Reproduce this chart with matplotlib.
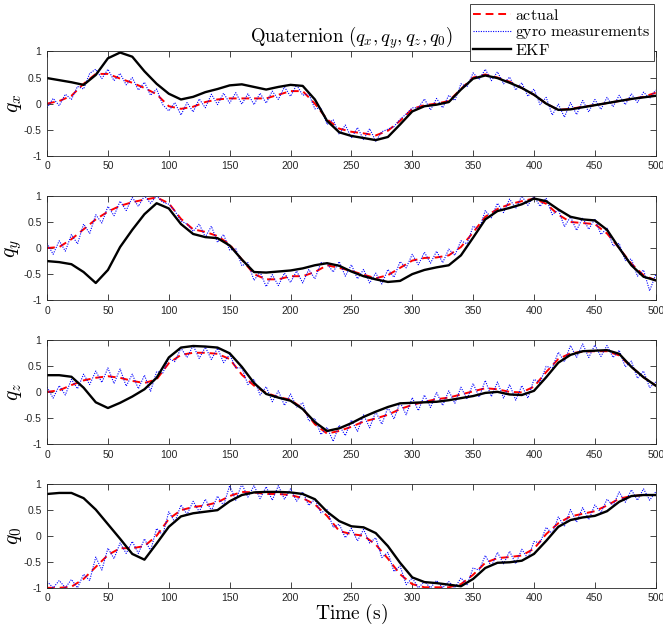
import matplotlib
matplotlib.use("Agg")
import matplotlib.pyplot as plt
import numpy as np

plt.rcParams['mathtext.fontset'] = 'cm'
plt.rcParams['axes.unicode_minus'] = False
plt.rcParams['font.family'] = ['Liberation Sans', 'DejaVu Sans']

# time grids (s)
t_10 = np.arange(0, 501, 10)
t_5 = np.arange(0, 501, 5)

names = ["$q_x$", "$q_y$", "$q_z$", "$q_0$"]

actual_qx = [0.0, 0.05, 0.15, 0.38, 0.57, 0.57, 0.48, 0.40, 0.30, 0.18, -0.05, -0.10, -0.06, 0.03, 0.08,
             0.10, 0.10, 0.10, 0.10, 0.17, 0.24, 0.24, 0.0, -0.30, -0.48, -0.54, -0.57, -0.61, -0.52, -0.33,
             -0.10, -0.03, 0.0, 0.05, 0.28, 0.50, 0.56, 0.50, 0.42, 0.30, 0.17, 0.0, -0.12, -0.10, -0.06,
             -0.03, 0.01, 0.05, 0.09, 0.13, 0.21]
ekf_qx = [0.49, 0.45, 0.41, 0.36, 0.55, 0.87, 0.98, 0.90, 0.62, 0.38, 0.19, 0.08, 0.13, 0.22, 0.28,
          0.35, 0.37, 0.32, 0.27, 0.32, 0.36, 0.34, 0.08, -0.33, -0.55, -0.62, -0.66, -0.70, -0.64, -0.40,
          -0.15, -0.05, -0.02, 0.03, 0.27, 0.48, 0.54, 0.49, 0.40, 0.30, 0.17, 0.0, -0.12, -0.11, -0.07,
          -0.03, 0.01, 0.05, 0.09, 0.12, 0.15]
gyro_qx = [-0.08, 0.10, -0.04, 0.18, 0.08, 0.33, 0.28, 0.58, 0.66, 0.48, 0.66, 0.44, 0.58, 0.36, 0.50,
           0.26, 0.41, 0.16, 0.28, -0.02, -0.14, 0.02, -0.22, 0.02, -0.16, 0.09, -0.08, 0.18, -0.02, 0.20,
           0.01, 0.21, -0.01, 0.19, -0.02, 0.20, 0.01, 0.24, 0.08, 0.32, 0.14, 0.36, 0.16, 0.19, -0.10,
           -0.08, -0.40, -0.31, -0.59, -0.41, -0.66, -0.46, -0.69, -0.48, -0.72, -0.54, -0.49, -0.44, -0.30, -0.20,
           -0.08, -0.08, 0.09, -0.12, 0.10, -0.08, 0.16, 0.06, 0.38, 0.32, 0.59, 0.46, 0.66, 0.44, 0.61,
           0.38, 0.51, 0.26, 0.40, 0.14, 0.28, -0.02, 0.12, -0.22, -0.01, -0.26, 0.02, -0.21, 0.06, -0.16,
           0.08, -0.11, 0.12, -0.06, 0.16, -0.02, 0.19, 0.02, 0.22, 0.10, 0.26]

actual_qy = [0.0, 0.02, 0.17, 0.36, 0.55, 0.70, 0.81, 0.88, 0.93, 0.97, 0.86, 0.56, 0.36, 0.31, 0.23,
             0.07, -0.22, -0.50, -0.60, -0.60, -0.54, -0.54, -0.46, -0.33, -0.38, -0.44, -0.51, -0.58, -0.52, -0.38,
             -0.24, -0.19, -0.18, -0.14, 0.02, 0.30, 0.60, 0.75, 0.84, 0.90, 0.95, 0.85, 0.64, 0.50, 0.48,
             0.46, 0.28, 0.0, -0.30, -0.52, -0.62]
ekf_qy = [-0.25, -0.27, -0.31, -0.46, -0.67, -0.42, 0.02, 0.35, 0.65, 0.86, 0.76, 0.46, 0.27, 0.21, 0.19,
          0.05, -0.22, -0.46, -0.47, -0.45, -0.43, -0.39, -0.33, -0.29, -0.34, -0.45, -0.54, -0.60, -0.65, -0.63,
          -0.50, -0.42, -0.37, -0.33, -0.14, 0.20, 0.55, 0.71, 0.77, 0.84, 0.95, 0.90, 0.74, 0.60, 0.55,
          0.53, 0.35, 0.0, -0.33, -0.55, -0.62]
gyro_qy = [0.09, -0.12, 0.14, -0.06, 0.26, 0.08, 0.46, 0.28, 0.64, 0.48, 0.80, 0.62, 0.90, 0.72, 0.97,
           0.80, 1.0, 0.86, 1.0, 0.88, 0.84, 0.71, 0.52, 0.46, 0.32, 0.46, 0.21, 0.42, 0.11, 0.26,
           -0.04, -0.01, -0.34, -0.28, -0.62, -0.46, -0.74, -0.51, -0.72, -0.48, -0.66, -0.44, -0.67, -0.41, -0.59,
           -0.28, -0.30, -0.46, -0.26, -0.54, -0.32, -0.59, -0.41, -0.67, -0.48, -0.69, -0.41, -0.56, -0.26, -0.38,
           -0.12, -0.32, -0.08, -0.29, -0.06, -0.28, -0.02, -0.14, 0.14, 0.08, 0.42, 0.36, 0.72, 0.58, 0.86,
           0.68, 0.94, 0.76, 1.0, 0.82, 1.0, 0.80, 0.96, 0.64, 0.74, 0.41, 0.60, 0.34, 0.58, 0.36,
           0.56, 0.26, 0.38, 0.04, 0.09, -0.24, -0.21, -0.54, -0.42, -0.82, -0.51]

actual_qz = [0.0, 0.03, 0.13, 0.22, 0.27, 0.30, 0.27, 0.21, 0.17, 0.24, 0.55, 0.71, 0.75, 0.75, 0.73,
             0.63, 0.33, 0.12, -0.02, -0.10, -0.15, -0.32, -0.62, -0.80, -0.75, -0.67, -0.57, -0.51, -0.44, -0.33,
             -0.25, -0.19, -0.14, -0.11, -0.05, 0.01, 0.07, 0.05, 0.0, -0.01, 0.10, 0.38, 0.63, 0.74, 0.77,
             0.78, 0.78, 0.70, 0.48, 0.28, 0.12]
ekf_qz = [0.32, 0.32, 0.29, 0.08, -0.20, -0.31, -0.21, -0.09, 0.05, 0.27, 0.66, 0.85, 0.88, 0.87, 0.85,
          0.74, 0.48, 0.17, -0.04, -0.11, -0.17, -0.33, -0.58, -0.75, -0.70, -0.60, -0.48, -0.38, -0.29, -0.22,
          -0.21, -0.20, -0.19, -0.16, -0.12, -0.08, -0.02, 0.0, -0.05, -0.06, 0.02, 0.28, 0.56, 0.71, 0.78,
          0.79, 0.80, 0.73, 0.48, 0.28, 0.12]
gyro_qz = [0.09, -0.12, 0.12, -0.06, 0.24, 0.06, 0.34, 0.14, 0.40, 0.18, 0.46, 0.16, 0.44, 0.11, 0.34,
           0.06, 0.32, 0.01, 0.39, 0.36, 0.64, 0.58, 0.84, 0.66, 0.89, 0.64, 0.86, 0.62, 0.84, 0.56,
           0.72, 0.46, 0.46, 0.14, 0.24, -0.06, 0.10, -0.19, 0.02, -0.26, -0.04, -0.29, -0.21, -0.56, -0.51,
           -0.82, -0.68, -0.95, -0.64, -0.84, -0.54, -0.76, -0.44, -0.69, -0.38, -0.62, -0.30, -0.52, -0.20, -0.44,
           -0.11, -0.36, -0.06, -0.30, -0.01, -0.26, 0.02, -0.22, 0.09, -0.14, 0.16, -0.10, 0.22, -0.09, 0.19,
           -0.12, 0.14, -0.16, 0.12, -0.12, 0.24, 0.18, 0.49, 0.46, 0.76, 0.58, 0.89, 0.66, 0.92, 0.66,
           0.90, 0.68, 0.89, 0.66, 0.80, 0.48, 0.59, 0.26, 0.40, 0.08, 0.19]

actual_q0 = [-1.0, -1.0, -0.98, -0.83, -0.60, -0.37, -0.24, -0.24, -0.20, 0.0, 0.32, 0.49, 0.55, 0.58, 0.64,
             0.76, 0.84, 0.83, 0.80, 0.80, 0.78, 0.72, 0.60, 0.38, 0.09, 0.03, 0.0, -0.17, -0.44, -0.74,
             -0.93, -0.99, -0.99, -0.99, -0.93, -0.75, -0.52, -0.43, -0.41, -0.38, -0.25, 0.03, 0.24, 0.37, 0.42,
             0.47, 0.58, 0.71, 0.76, 0.78, 0.78]
ekf_q0 = [0.80, 0.82, 0.82, 0.72, 0.50, 0.22, -0.06, -0.35, -0.46, -0.15, 0.17, 0.37, 0.43, 0.46, 0.49,
          0.66, 0.78, 0.83, 0.84, 0.84, 0.83, 0.80, 0.70, 0.46, 0.28, 0.18, 0.16, 0.05, -0.20, -0.52,
          -0.80, -0.89, -0.91, -0.94, -0.97, -0.83, -0.62, -0.52, -0.51, -0.48, -0.35, -0.10, 0.17, 0.30, 0.35,
          0.38, 0.47, 0.65, 0.76, 0.78, 0.78]
gyro_q0 = [-0.88, -1.0, -0.86, -1.0, -0.84, -1.0, -0.74, -0.86, -0.41, -0.66, -0.24, -0.44, -0.14, -0.34, -0.11,
           -0.34, -0.06, -0.29, 0.14, 0.01, 0.46, 0.26, 0.59, 0.41, 0.66, 0.46, 0.70, 0.48, 0.76, 0.58,
           0.96, 0.68, 0.99, 0.74, 0.96, 0.71, 0.94, 0.68, 0.96, 0.70, 0.90, 0.66, 0.84, 0.58, 0.70,
           0.44, 0.50, 0.16, 0.22, -0.04, 0.14, -0.10, 0.12, -0.14, -0.04, -0.42, -0.32, -0.69, -0.58, -0.94,
           -0.81, -1.0, -0.88, -1.0, -0.86, -1.0, -0.88, -1.0, -0.81, -0.94, -0.62, -0.66, -0.38, -0.59, -0.32,
           -0.54, -0.30, -0.54, -0.26, -0.44, -0.11, -0.14, 0.16, 0.04, 0.36, 0.18, 0.50, 0.26, 0.54, 0.31,
           0.59, 0.44, 0.70, 0.58, 0.84, 0.64, 0.88, 0.68, 0.90, 0.68, 0.84]

actual = [actual_qx, actual_qy, actual_qz, actual_q0]
ekf = [ekf_qx, ekf_qy, ekf_qz, ekf_q0]
gyro = [gyro_qx, gyro_qy, gyro_qz, gyro_q0]

fig = plt.figure(figsize=(6.63, 6.28), dpi=100)
left, width, height = 0.071, 0.918, 0.166
bottoms = [0.752, 0.522, 0.293, 0.064]
grey = '#262626'

for i in range(4):
    ax = fig.add_axes([left, bottoms[i], width, height])
    l1, = ax.plot(t_10, actual[i], color='red', linestyle=(0, (4, 2.5)), lw=1.4)
    l2, = ax.plot(t_5, gyro[i], color='blue', linestyle=(0, (1, 1.2)), lw=0.8)
    l3, = ax.plot(t_10, ekf[i], color='black', lw=1.7)
    ax.set_xlim(0, 500)
    ax.set_ylim(-1, 1)
    ax.set_yticks([-1, -0.5, 0, 0.5, 1])
    ax.set_yticklabels(['-1', '-0.5', '0', '0.5', '1'])
    ax.set_xticks(range(0, 501, 50))
    ax.tick_params(direction='in', top=True, right=True, labelsize=7.5, colors=grey,
                   length=4, width=0.6, pad=4)
    for s in ax.spines.values():
        s.set_color(grey)
        s.set_linewidth(0.6)
    ax.set_ylabel(names[i], fontsize=15.5)
    ax.yaxis.set_label_coords(-0.038, 0.5)
    if i == 0:
        ax.set_title(r"$\mathrm{Quaternion}\ (q_x, q_y, q_z, q_0)$", fontsize=13.5, pad=6)
    if i == 3:
        ax.set_xlabel(r"$\mathrm{Time\ (s)}$", fontsize=14, labelpad=-1)

leg = fig.legend([l1, l2, l3],
                 [r"$\mathrm{actual}$", r"$\mathrm{gyro\ measurements}$", r"$\mathrm{EKF}$"],
                 loc='upper right', bbox_to_anchor=(0.991, 0.998), fontsize=11.5,
                 fancybox=False, edgecolor=grey, framealpha=1, handlelength=2.4,
                 handletextpad=0.25, borderpad=0.2, labelspacing=0.1, borderaxespad=0.2)
leg.get_frame().set_linewidth(0.6)

fig.savefig("out.png", dpi=100)
